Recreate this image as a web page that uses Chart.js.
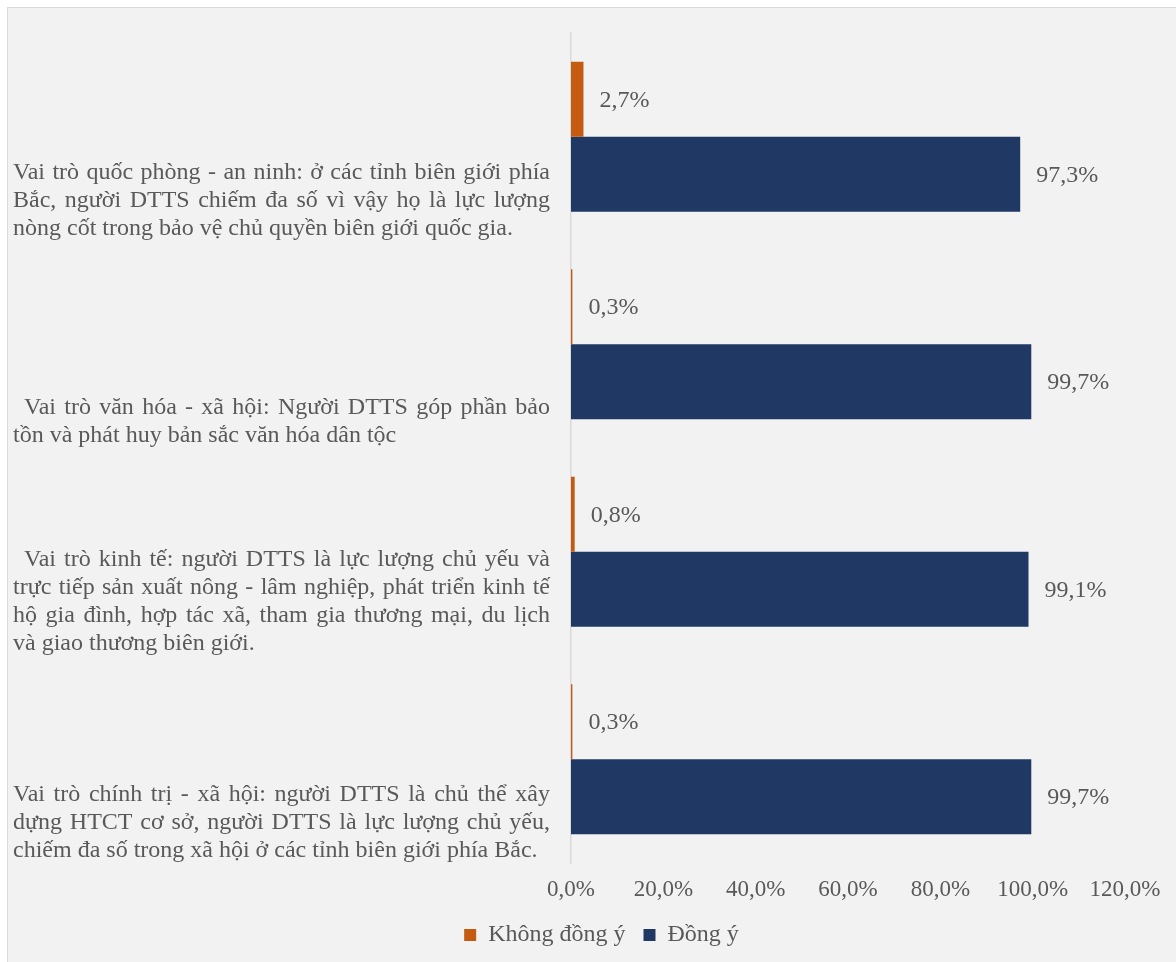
<!DOCTYPE html>
<html>
<head>
<meta charset="utf-8">
<script src="https://cdn.jsdelivr.net/npm/chart.js@4/dist/chart.umd.min.js"></script>
<style>
  html, body { margin: 0; padding: 0; background: #ffffff; overflow: hidden; }
  .panel {
    position: absolute; left: 7px; top: 7px; width: 1180px; height: 970px;
    background: #f2f2f2; border: 1px solid #d9d9d9;
  }
  #chart { position: absolute; left: 8px; top: 8px; }
</style>
</head>
<body>
<div class="panel"></div>
<canvas id="chart" width="1168" height="954"></canvas>
<script>
// category labels, already wrapped the way they are printed (leading spaces = indent)
const categories = [
    ["Vai trò quốc phòng - an ninh: ở các tỉnh biên giới phía",
     "Bắc, người DTTS chiếm đa số vì vậy họ là lực lượng",
     "nòng cốt trong bảo vệ chủ quyền biên giới quốc gia."],
    ["  Vai trò văn hóa - xã hội: Người DTTS góp phần bảo",
     "tồn và phát huy bản sắc văn hóa dân tộc"],
    ["  Vai trò kinh tế: người DTTS là lực lượng chủ yếu và",
     "trực tiếp sản xuất nông - lâm nghiệp, phát triển kinh tế",
     "hộ gia đình, hợp tác xã, tham gia thương mại, du lịch",
     "và giao thương biên giới."],
    ["Vai trò chính trị - xã hội: người DTTS là chủ thể xây",
     "dựng HTCT cơ sở, người DTTS là lực lượng chủ yếu,",
     "chiếm đa số trong xã hội ở các tỉnh biên giới phía Bắc."]
];
const disagree = [2.7, 0.3, 0.8, 0.3];
const agree = [97.3, 99.7, 99.1, 99.7];
const seriesNames = ["Không đồng ý", "Đồng ý"];
const xTicks = [0, 20, 40, 60, 80, 100, 120];

const textColor = "#595959";
const serif = "'Liberation Serif', 'Times New Roman', serif";

function pct(v) {
    return v.toFixed(1).replace('.', ',') + '%';
}

// justified multi-line category labels, bottom aligned in each band
const categoryLabels = {
    id: 'categoryLabels',
    afterDraw(chart) {
        const ctx = chart.ctx;
        const y = chart.scales.y;
        const band = y.getPixelForValue(1) - y.getPixelForValue(0);
        const left = 5, right = 542, indent = 11, lineH = 28;
        ctx.save();
        ctx.font = "24px " + serif;
        ctx.fillStyle = textColor;
        ctx.textBaseline = 'middle';
        ctx.textAlign = 'left';
        categories.forEach((lines, i) => {
            const bottom = y.getPixelForValue(i) + band / 2;
            lines.forEach((line, k) => {
                const ly = bottom - 12 - (lines.length - 1 - k) * lineH;
                const x0 = line.startsWith(' ') ? left + indent : left;
                const words = line.trim().split(' ');
                const last = k == lines.length - 1;
                if (last || words.length < 2) {
                    ctx.fillText(line.trim(), x0, ly);
                    return;
                }
                let wordsW = 0;
                words.forEach(w => { wordsW += ctx.measureText(w).width; });
                const gap = (right - x0 - wordsW) / (words.length - 1);
                let x = x0;
                words.forEach(w => {
                    ctx.fillText(w, x, ly);
                    x += ctx.measureText(w).width + gap;
                });
            });
        });
        ctx.restore();
    }
};

// value labels just past the end of every bar
const valueLabels = {
    id: 'valueLabels',
    afterDatasetsDraw(chart) {
        const ctx = chart.ctx;
        ctx.save();
        ctx.font = "24px " + serif;
        ctx.fillStyle = textColor;
        ctx.textBaseline = 'middle';
        ctx.textAlign = 'left';
        chart.data.datasets.forEach((ds, di) => {
            chart.getDatasetMeta(di).data.forEach((bar, i) => {
                ctx.fillText(pct(ds.data[i]), bar.x + 16, bar.y + 1);
            });
        });
        ctx.restore();
    }
};

new Chart(document.getElementById('chart'), {
    type: 'bar',
    data: {
        labels: categories,
        datasets: [
            { label: seriesNames[0], data: disagree, backgroundColor: '#c55a11' },
            { label: seriesNames[1], data: agree, backgroundColor: '#203864' }
        ]
    },
    options: {
        indexAxis: 'y',
        responsive: false,
        animation: false,
        devicePixelRatio: 1,
        categoryPercentage: 0.723,
        barPercentage: 1,
        layout: { padding: { left: 70, top: 25, right: 51, bottom: 5 } },
        scales: {
            x: {
                min: xTicks[0],
                max: xTicks[xTicks.length - 1],
                grid: { display: false, drawTicks: false },
                border: { display: false },
                ticks: {
                    stepSize: 20,
                    padding: 13,
                    color: textColor,
                    font: { family: serif, size: 23 },
                    callback: (v) => pct(v)
                },
                afterFit: (scale) => { scale.height = 42; }
            },
            y: {
                grid: { display: false, drawTicks: false },
                border: { display: true, color: '#d9d9d9', width: 1.5 },
                ticks: { display: false },
                afterFit: (scale) => { scale.width = 493; }
            }
        },
        plugins: {
            legend: {
                position: 'bottom',
                labels: {
                    boxWidth: 12,
                    boxHeight: 12,
                    padding: 18,
                    color: textColor,
                    font: { family: serif, size: 24 }
                }
            },
            tooltip: { enabled: false }
        }
    },
    plugins: [categoryLabels, valueLabels]
});
</script>
</body>
</html>
